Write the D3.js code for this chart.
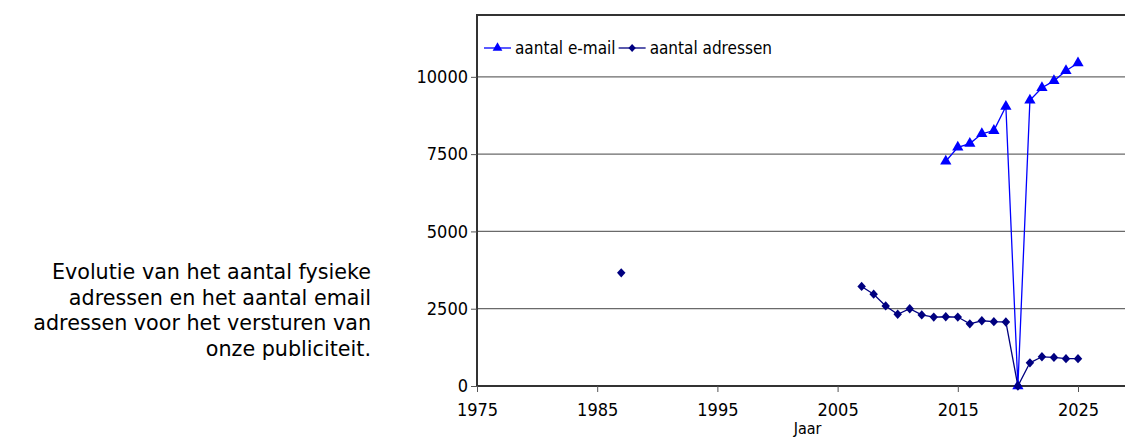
<!DOCTYPE html>
<html>
<head>
<meta charset="utf-8">
<script src="https://cdn.jsdelivr.net/npm/d3@7"></script>
<style>
  body { margin: 0; background: #fff; }
  svg text { font-family: "DejaVu Sans Condensed", "DejaVu Sans", sans-serif; fill: #000; }
  svg text.side { font-family: "DejaVu Sans", sans-serif; }
</style>
</head>
<body>
<div id="chart"></div>
<script>
// years on the x axis (1988 has no value: breaks the line after 1987)
var years = [1987, 1988, 2007, 2008, 2009, 2010, 2011, 2012, 2013, 2014, 2015, 2016,
             2017, 2018, 2019, 2020, 2021, 2022, 2023, 2024, 2025];
// aantal adressen (null = no value)
var adressen = [3660, null, 3220, 2970, 2590, 2320, 2500, 2300, 2230, 2240, 2230, 2010,
                2110, 2080, 2070, 0, 750, 945, 925, 885, 885];
// aantal e-mail (null = no value)
var email = [null, null, null, null, null, null, null, null, null, 7270, 7720, 7840,
             8160, 8260, 9040, 0, 9240, 9645, 9870, 10195, 10450];
var xTicks = [1975, 1985, 1995, 2005, 2015, 2025];
var yTicks = [0, 2500, 5000, 7500, 10000];
var sideText = ["Evolutie van het aantal fysieke", "adressen en het aantal email",
                "adressen voor het versturen van", "onze publiciteit."];

var W = 1125, H = 437;
var margin = {top: 15, left: 477, bottom: 51};

var svg = d3.select("#chart").append("svg")
    .attr("width", W)
    .attr("height", H);

var x = d3.scaleLinear().domain([1975, 2030]).range([margin.left, margin.left + 55 * 12.02]);
var y = d3.scaleLinear().domain([0, 12000]).range([H - margin.bottom, margin.top]);

// gridlines
svg.append("g")
    .selectAll("line")
    .data(yTicks.slice(1))
    .enter().append("line")
    .attr("x1", x(1975)).attr("x2", x(2030))
    .attr("y1", function(d) { return y(d); })
    .attr("y2", function(d) { return y(d); })
    .style("stroke", "#6a6a6a")
    .style("stroke-width", 1.2);

// frame
svg.append("rect")
    .attr("x", x(1975)).attr("y", y(12000))
    .attr("width", x(2030) - x(1975))
    .attr("height", y(0) - y(12000))
    .style("fill", "none")
    .style("stroke", "#333")
    .style("stroke-width", 2);

// axes
var xAxis = svg.append("g")
    .attr("transform", "translate(0," + y(0) + ")")
    .call(d3.axisBottom(x).tickValues(xTicks).tickFormat(d3.format("d")).tickSize(6).tickPadding(11));
xAxis.select(".domain").remove();
xAxis.selectAll("line").style("stroke", "#555");
xAxis.selectAll("text").style("font-size", "18px").attr("fill", "#000");

var yAxis = svg.append("g")
    .attr("transform", "translate(" + x(1975) + ",0)")
    .call(d3.axisLeft(y).tickValues(yTicks).tickFormat(d3.format("d")).tickSize(6).tickPadding(3));
yAxis.select(".domain").remove();
yAxis.selectAll("line").style("stroke", "#555");
yAxis.selectAll("text").style("font-size", "18px").attr("fill", "#000");

svg.append("text")
    .text("Jaar")
    .attr("x", (x(1975) + x(2030)) / 2)
    .attr("y", 434)
    .attr("text-anchor", "middle")
    .style("font-size", "16px");

// series
var diamond = {
  draw: function(ctx, size) {
    var r = Math.sqrt(size / 2);
    ctx.moveTo(0, -r * 1.1);
    ctx.lineTo(r, 0);
    ctx.lineTo(0, r * 1.1);
    ctx.lineTo(-r, 0);
    ctx.closePath();
  }
};
var series = [
  {name: "aantal e-mail", values: email, color: "#0000ff", symbol: d3.symbolTriangle, size: 55},
  {name: "aantal adressen", values: adressen, color: "#000080", symbol: diamond, size: 36}
];

var line = d3.line()
    .defined(function(d) { return d.v != null; })
    .x(function(d) { return x(d.year); })
    .y(function(d) { return y(d.v); });

series.forEach(function(s) {
  var pts = years.map(function(yr, i) { return {year: yr, v: s.values[i]}; });
  svg.append("path")
      .datum(pts)
      .attr("d", line)
      .style("fill", "none")
      .style("stroke", s.color)
      .style("stroke-width", 1.3);
  svg.append("g")
      .selectAll("path")
      .data(pts.filter(function(d) { return d.v != null; }))
      .enter().append("path")
      .attr("d", d3.symbol().type(s.symbol).size(s.size))
      .attr("transform", function(d) { return "translate(" + x(d.year) + "," + y(d.v) + ")"; })
      .style("fill", s.color);
});

// legend
var legend = svg.append("g").attr("transform", "translate(484,48)");
var lx = 0;
series.forEach(function(s) {
  var g = legend.append("g").attr("transform", "translate(" + lx + ",0)");
  g.append("line").attr("x1", 0).attr("x2", 27).attr("y1", 0).attr("y2", 0)
    .style("stroke", s.color).style("stroke-width", 1.3);
  g.append("path")
    .attr("d", d3.symbol().type(s.symbol).size(s.size * 0.75))
    .attr("transform", "translate(13.5,0)")
    .style("fill", s.color);
  var t = g.append("text").text(s.name)
    .attr("x", 31).attr("y", 6)
    .style("font-size", "17px");
  lx += 31 + t.node().getComputedTextLength() + 3;
});

// side text
svg.append("g")
    .selectAll("text")
    .data(sideText)
    .enter().append("text")
    .attr("class", "side")
    .text(function(d) { return d; })
    .attr("x", 371)
    .attr("y", function(d, i) { return 279 + i * 25.5; })
    .attr("text-anchor", "end")
    .style("font-size", "20.7px");
</script>
</body>
</html>
